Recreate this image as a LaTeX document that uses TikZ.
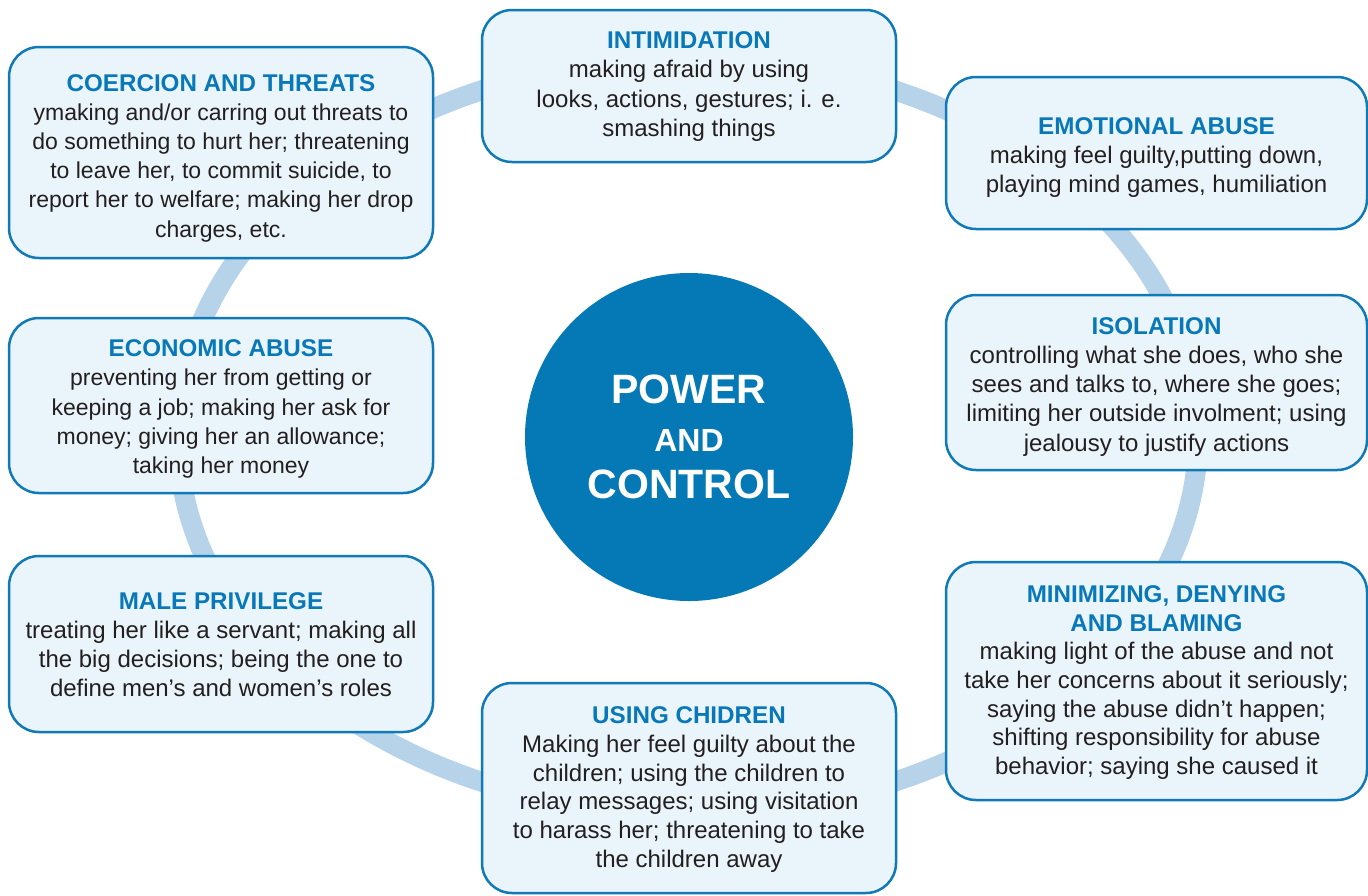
\documentclass[tikz,border=0pt]{standalone}
\usepackage{fontspec}
\setmainfont{Liberation Sans}
\usepackage{tikz}
\definecolor{ringblue}{RGB}{183,211,234}
\definecolor{edgeblue}{RGB}{16,122,184}
\definecolor{cardfill}{RGB}{234,244,251}
\definecolor{headblue}{RGB}{8,120,185}
\definecolor{hubblue}{RGB}{4,121,181}
\definecolor{inkgray}{RGB}{35,31,32}
\newcommand{\cardhead}[2][0pt]{{\fontsize{12.1}{14.6}\selectfont\bfseries\color{headblue}\rule{0pt}{\dimexpr 9pt+#1\relax}#2}}

\begin{document}
\begin{tikzpicture}[x=0.5pt,y=-0.5pt,
  card/.style={draw=edgeblue,fill=cardfill,line width=1.25pt,rounded corners=15pt,
    align=center,text=inkgray,font=\fontsize{12}{14.6}\selectfont,inner sep=0pt},
  smallcard/.style={card,font=\fontsize{11.5}{14.6}\selectfont},
  tightcard/.style={card,font=\fontsize{12}{14.35}\selectfont},
  hub/.style={circle,fill=hubblue,text=white,minimum size=164pt,inner sep=0pt,
    align=center,font=\fontsize{20.5}{23.8}\selectfont\bfseries}]
  \useasboundingbox (0,0) rectangle (1368,895);
  \draw[ringblue,line width=10pt] (688,436) ellipse [x radius=510,y radius=378];
  \node[hub] (power) at (689,437) {POWER\\{\fontsize{16}{23.8}\selectfont AND}\\CONTROL};
  \node[smallcard,minimum width=212pt,minimum height=105.5pt] (coercion) at (221,152.5)
    {\cardhead[5pt]{COERCION AND THREATS}\\
     ymaking and/or carring out threats to\\
     do something to hurt her; threatening\\
     to leave her, to commit suicide, to\\
     report her to welfare; making her drop\\
     charges, etc.};
  \node[card,minimum width=207pt,minimum height=76pt] (intimidation) at (689,86)
    {\cardhead{INTIMIDATION}\\
     making afraid by using\\
     looks, actions, gestures; i. e.\\
     smashing things};
  \node[card,minimum width=210.5pt,minimum height=76pt] (emotional) at (1156.5,153)
    {\cardhead[4pt]{EMOTIONAL ABUSE}\\
     making feel guilty,putting down,\\
     playing mind games, humiliation};
  \node[card,minimum width=210.5pt,minimum height=87.5pt] (isolation) at (1156.5,382.5)
    {\cardhead[3.6pt]{ISOLATION}\\
     controlling what she does, who she\\
     sees and talks to, where she goes;\\
     limiting her outside involment; using\\
     jealousy to justify actions};
  \node[tightcard,minimum width=210.5pt,minimum height=119pt] (minimizing) at (1156.5,681)
    {\cardhead[1pt]{MINIMIZING, DENYING}\\
     \cardhead{AND BLAMING}\\
     making light of the abuse and not\\
     take her concerns about it seriously;\\
     saying the abuse didn’t happen;\\
     shifting responsibility for abuse\\
     behavior; saying she caused it};
  \node[tightcard,minimum width=207pt,minimum height=105pt] (children) at (689,788)
    {\cardhead[1pt]{USING CHIDREN}\\
     Making her feel guilty about the\\
     children; using the children to\\
     relay messages; using visitation\\
     to harass her; threatening to take\\
     the children away};
  \node[card,minimum width=212pt,minimum height=88pt] (privilege) at (221,644)
    {\cardhead{MALE PRIVILEGE}\\
     treating her like a servant; making all\\
     the big decisions; being the one to\\
     define men’s and women’s roles};
  \node[smallcard,minimum width=212pt,minimum height=87.5pt] (economic) at (221,405.5)
    {\cardhead[3pt]{ECONOMIC ABUSE}\\
     preventing her from getting or\\
     keeping a job; making her ask for\\
     money; giving her an allowance;\\
     taking her money};
\end{tikzpicture}
\end{document}
